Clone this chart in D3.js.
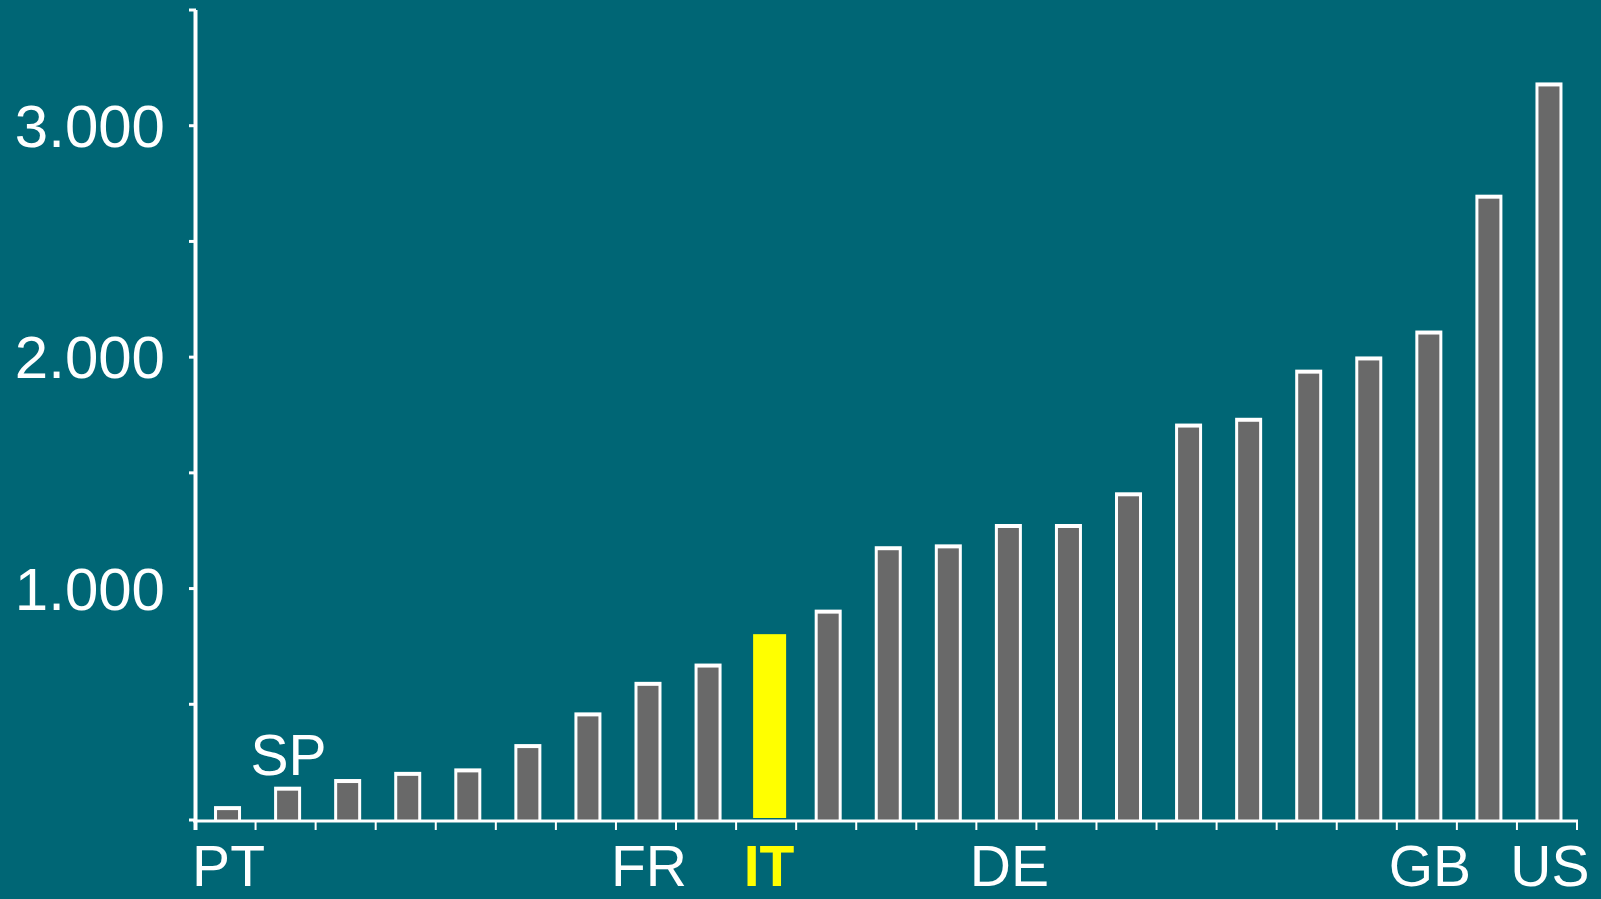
<!DOCTYPE html>
<html>
<head>
<meta charset="utf-8">
<script src="https://cdn.jsdelivr.net/npm/d3@7"></script>
<style>
	html, body { margin: 0; padding: 0; background: #006675; overflow: hidden; }
	svg { display: block; }
</style>
</head>
<body>
<svg id="chart"></svg>
<script>
//
// Bar chart: countries ranked by value, Italy highlighted
//
const labels = ["PT", "SP", "", "", "", "", "", "FR", "", "IT", "", "", "", "DE", "", "", "", "", "", "", "GB", "", "US"];
const values = [60, 144, 177, 208, 223, 328, 465, 597, 676, 803, 909, 1183, 1191, 1279, 1279, 1416, 1713, 1738, 1946, 2003, 2115, 2702, 3187];
const highlight = "IT";
const yTicks = [0, 500, 1000, 1500, 2000, 2500, 3000, 3500];
const yTickLabels = { 1000: "1.000", 2000: "2.000", 3000: "3.000" };

const width = 1601;
const height = 899;
const bg = "#006675";
const barGray = "#696969";
const yellow = "#ffff00";
const font = "'Liberation Sans', Arial, sans-serif";

const svg = d3.select("#chart").attr("width", width).attr("height", height);

svg.append("rect").attr("width", width).attr("height", height).style("fill", bg);

const x = d3
	.scaleBand()
	.domain(d3.range(values.length))
	.range([195.5, 1577])
	.padding(0);

const y = d3.scaleLinear().domain([0, 3500]).range([820, 10]);

// bars sit a touch right of the band centre in the original
const centre = (i) => x(i) + x.bandwidth() / 2 + 2;

const g = svg.append("g");

// bars: white box with a gray inset, the highlighted one plain yellow
const barW = 27;
const bars = g
	.append("g")
	.selectAll("g")
	.data(values.map((v, i) => ({ v, i, label: labels[i] })))
	.enter()
	.append("g");

bars
	.filter((d) => d.label !== highlight)
	.each(function (d) {
		const sel = d3.select(this);
		const cx = centre(d.i);
		const top = y(d.v);
		sel
			.append("rect")
			.attr("x", cx - barW / 2)
			.attr("y", top)
			.attr("width", barW)
			.attr("height", y(0) - top)
			.style("fill", "#ffffff");
		sel
			.append("rect")
			.attr("x", cx - barW / 2 + 3)
			.attr("y", top + 4)
			.attr("width", barW - 6)
			.attr("height", y(0) - top - 4)
			.style("fill", barGray);
	});

bars
	.filter((d) => d.label === highlight)
	.append("rect")
	.attr("x", (d) => centre(d.i) - 15)
	.attr("y", (d) => y(d.v))
	.attr("width", 33)
	.attr("height", (d) => y(0) - 2 - y(d.v))
	.style("fill", yellow);

// x axis: line with ticks at band edges
const xAxis = g.append("g");
xAxis
	.append("line")
	.attr("x1", 193)
	.attr("x2", 1578)
	.attr("y1", 821)
	.attr("y2", 821)
	.style("stroke", "#ffffff")
	.style("stroke-width", 3);

xAxis
	.selectAll("line.tick")
	.data(d3.range(values.length + 1))
	.enter()
	.append("line")
	.attr("class", "tick")
	.attr("x1", (d) => (d < values.length ? x(d) : x.range()[1]))
	.attr("x2", (d) => (d < values.length ? x(d) : x.range()[1]))
	.attr("y1", 821)
	.attr("y2", 830)
	.style("stroke", "#ffffff")
	.style("stroke-width", 2);

// y axis
const yAxis = g.append("g");
yAxis
	.append("line")
	.attr("x1", 195.5)
	.attr("x2", 195.5)
	.attr("y1", 10)
	.attr("y2", 830)
	.style("stroke", "#ffffff")
	.style("stroke-width", 4);

yAxis
	.selectAll("line.tick")
	.data(yTicks)
	.enter()
	.append("line")
	.attr("class", "tick")
	.attr("x1", 189)
	.attr("x2", 196)
	.attr("y1", (d) => y(d))
	.attr("y2", (d) => y(d))
	.style("stroke", "#ffffff")
	.style("stroke-width", 3);

yAxis
	.selectAll("text")
	.data(yTicks.filter((d) => yTickLabels[d]))
	.enter()
	.append("text")
	.attr("x", 165)
	.attr("y", (d) => y(d) + 21)
	.attr("text-anchor", "end")
	.text((d) => yTickLabels[d])
	.style("font-family", font)
	.style("font-size", "60px")
	.style("fill", "#ffffff");

// category labels; SP sits above its bar
g.append("g")
	.selectAll("text")
	.data(labels.map((l, i) => ({ l, i })).filter((d) => d.l))
	.enter()
	.append("text")
	.attr("x", (d) => centre(d.i) + 1)
	.attr("y", (d) => (d.l === "SP" ? 775 : 886))
	.attr("text-anchor", "middle")
	.text((d) => d.l)
	.style("font-family", font)
	.style("font-size", "57px")
	.style("fill", (d) => (d.l === highlight ? yellow : "#ffffff"))
	.style("font-weight", (d) => (d.l === highlight ? "700" : "400"));
</script>
</body>
</html>
